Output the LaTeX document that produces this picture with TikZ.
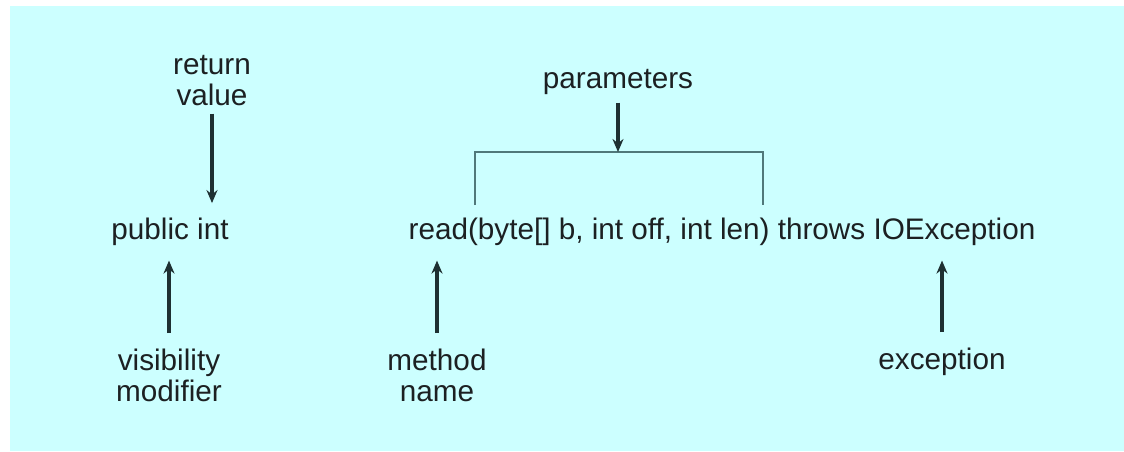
\documentclass[tikz,border=0pt]{standalone}
\usepackage{fontspec}
\setmainfont{Liberation Sans}
\usetikzlibrary{arrows.meta}
\definecolor{panel}{RGB}{204,255,255}
\definecolor{ink}{RGB}{28,32,34}
\definecolor{arrowink}{RGB}{30,48,50}
\definecolor{bracketink}{RGB}{80,120,122}
\begin{document}
\begin{tikzpicture}[x=0.5pt,y=-0.5pt,
  lbl/.style={inner sep=0pt, text=ink, align=center, anchor=base,
    font=\fontsize{14.85pt}{15.5pt}\selectfont},
  pointer/.style={draw=arrowink, line width=1.7pt,
    -{Stealth[length=6.5pt,width=5.5pt]}},
  bracket/.style={draw=bracketink, line width=1pt}]
  % canvas
  \useasboundingbox (0,0) rectangle (1124,451);
  \fill[white] (0,0) rectangle (1124,451);
  \fill[panel] (10,6) rectangle (1124,451);

  % method signature
  \node[lbl] (pubint) at (170,239) {public int};
  \node[lbl] (sig) at (722,239) {read(byte[] b, int off, int len) throws IOException};

  % labels (base anchor sits on the last line)
  \node[lbl] (retval) at (212,105) {return\\value};
  \node[lbl] (params) at (618,88) {parameters};
  \node[lbl] (vis) at (169,401) {visibility\\modifier};
  \node[lbl] (mname) at (437,401) {method\\name};
  \node[lbl] (exc) at (942,369) {exception};

  % bracket over the parameter list
  \coordinate (bl) at (475,205);
  \coordinate (br) at (763,205);
  \coordinate (btop) at (618,152);
  \draw[bracket] (bl) |- (btop) -| (br);

  % pointers
  \draw[pointer, shorten <=4pt] (params) -- (btop);
  \draw[pointer, shorten <=4pt, shorten >=7pt] (retval.south) -- (retval.south |- pubint.north);
  \draw[pointer, shorten <=7.5pt, shorten >=7.5pt] (vis.north) -- (vis.north |- pubint.south);
  \draw[pointer, shorten <=7.5pt, shorten >=7.5pt] (mname.north) -- (mname.north |- sig.south);
  \draw[pointer, shorten <=7.5pt, shorten >=7.5pt] (exc.north) -- (exc.north |- sig.south);
\end{tikzpicture}
\end{document}
